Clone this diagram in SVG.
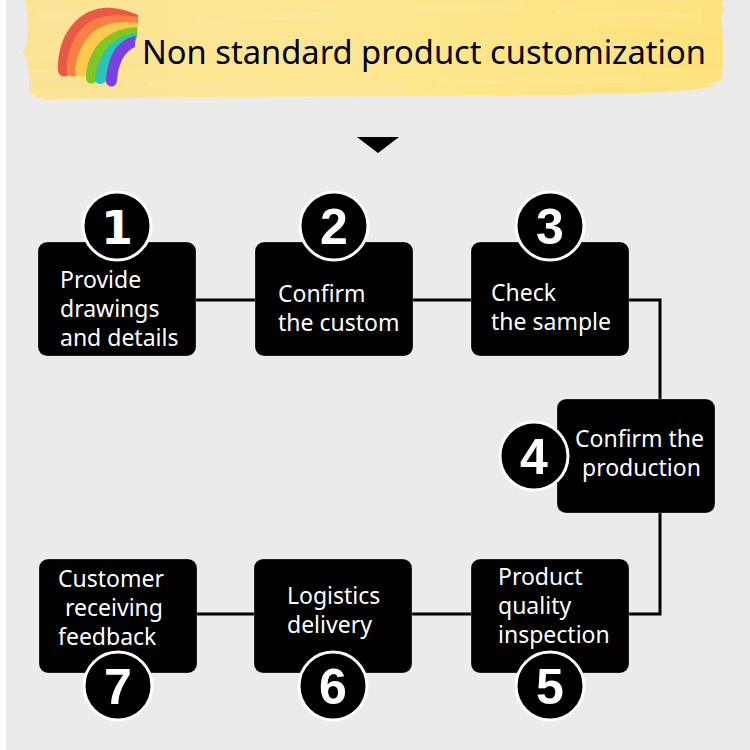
<svg xmlns="http://www.w3.org/2000/svg" width="750" height="750" viewBox="0 0 750 750">
<defs>
<linearGradient id="banner" x1="0" y1="0" x2="1" y2="0">
<stop offset="0" stop-color="#fbe398"/><stop offset="0.5" stop-color="#fde68f"/><stop offset="1" stop-color="#fde27e"/>
</linearGradient>
</defs>
<style>
.box{fill:#000;stroke:#fff;stroke-opacity:.25;stroke-width:1}
.lbl{font-family:"Noto Sans","Open Sans",sans-serif;font-size:23px;fill:#fff}
.disc{fill:#000;stroke:#fff;stroke-width:3}
.num{font-family:"Liberation Sans",Arial,sans-serif;font-size:50px;font-weight:bold;fill:#fff;text-anchor:middle}
.wire{fill:none;stroke:#000;stroke-width:3}
.streak{fill:none;stroke:#fff;stroke-opacity:.07;stroke-width:6;stroke-linecap:round}
.streak2{fill:none;stroke:#fbd96f;stroke-opacity:.18;stroke-width:6;stroke-linecap:round}
</style>
<rect width="750" height="750" fill="#ebebeb"/>
<rect width="6" height="750" fill="#fff"/>
<g id="banner-bar">
<path d="M25 0H724L722 4L724 10L721 13L722 24L723 40L723 66L721 78L722 80L708 84L716 86L690 90L640 93L560 95L400 96L200 97L60 99L47 100L36 97L29 92L29 78L27 60L23 52L27 40L28 18Z" fill="url(#banner)"/>
<path class="streak" d="M40 16H130M200 22L330 14M420 10L520 6M560 12L700 16M150 84H400M440 82L640 80"/>
<path class="streak2" d="M35 66H140M35 84H120M600 30L716 38M640 64L716 66"/>
</g>
<g id="rainbow">
<path fill="#e85a47" d="M138 15C125 9 112 7 103 8C75 11 57 38 58 70C58 76 64 78 69 75L72 50L100 22L138 22Z"/>
<path fill="#fb7f42" d="M138 17C115 13 95 15 83 27C72 38 66 55 67 74C69 77 75 77 77 75L85 50L110 32L138 28Z"/>
<path fill="#fdc94f" d="M138 23C118 20 100 24 90 35C80 46 75 60 75 74C78 77 84 78 88 74L95 50L115 36L138 34Z"/>
<path fill="#7fc724" d="M137 27C118 28 104 36 96 47C89 57 86 67 86 79C87 84 93 85 97 81L104 55L120 42L137 38Z"/>
<path fill="#2cc4b6" d="M137 33C122 35 110 42 104 52C98 62 95 72 95 80C96 85 103 85 106 81L112 58L125 45L136 40Z"/>
<path fill="#7c3fe0" d="M135.500 36C124 38 114 47 110 60C107 68 106 76 106 82C107 87 114 88 116 84C118 80 117 72 120 65C123 56 128 50 135 47Z"/>
</g>
<text id="title" x="142" y="64" font-family="Noto Sans,Open Sans,sans-serif" font-size="33" fill="#000" textLength="564" lengthAdjust="spacingAndGlyphs">Non standard product customization</text>
<path id="pointer" d="M357 137H399L378 153Z" fill="#000"/>
<g id="connectors">
<path class="wire" d="M196 300H255"/>
<path class="wire" d="M413 300H471"/>
<path class="wire" d="M629 300H660V400"/>
<path class="wire" d="M660 513V614H629"/>
<path class="wire" d="M471 614H412"/>
<path class="wire" d="M254 614H197"/>
</g>
<g id="node1">
<rect class="box" x="38" y="242" width="158" height="114" rx="9"/>
<circle class="disc" cx="117" cy="226" r="34"/>
<text class="num" x="117" y="244" style="font-family:'DejaVu Sans',sans-serif;font-size:46px">1</text>
<text class="lbl" x="60" y="288">Provide</text>
<text class="lbl" x="60" y="317">drawings</text>
<text class="lbl" x="60" y="346">and details</text>
</g>
<g id="node2">
<rect class="box" x="255" y="242" width="158" height="114" rx="9"/>
<circle class="disc" cx="334" cy="226" r="34"/>
<text class="num" x="334" y="244">2</text>
<text class="lbl" x="278" y="302">Confirm</text>
<text class="lbl" x="278" y="331">the custom</text>
</g>
<g id="node3">
<rect class="box" x="471" y="242" width="158" height="114" rx="9"/>
<circle class="disc" cx="550" cy="226" r="34"/>
<text class="num" x="550" y="244">3</text>
<text class="lbl" x="491" y="301">Check</text>
<text class="lbl" x="491" y="330">the sample</text>
</g>
<g id="node4">
<rect class="box" x="557" y="399" width="158" height="114" rx="9"/>
<circle class="disc" cx="534" cy="456" r="34"/>
<text class="num" x="534" y="474">4</text>
<text class="lbl" x="575" y="447">Confirm the</text>
<text class="lbl" x="582" y="476">production</text>
</g>
<g id="node5">
<rect class="box" x="471" y="559" width="158" height="114" rx="9"/>
<circle class="disc" cx="550" cy="686" r="34"/>
<text class="num" x="550" y="704">5</text>
<text class="lbl" x="498" y="585">Product</text>
<text class="lbl" x="498" y="614">quality</text>
<text class="lbl" x="498" y="643">inspection</text>
</g>
<g id="node6">
<rect class="box" x="254" y="559" width="158" height="114" rx="9"/>
<circle class="disc" cx="333" cy="686" r="34"/>
<text class="num" x="333" y="704">6</text>
<text class="lbl" x="287" y="604">Logistics</text>
<text class="lbl" x="287" y="633">delivery</text>
</g>
<g id="node7">
<rect class="box" x="39" y="559" width="158" height="114" rx="9"/>
<circle class="disc" cx="118" cy="686" r="34"/>
<text class="num" x="118" y="704">7</text>
<text class="lbl" x="58" y="587">Customer</text>
<text class="lbl" x="65" y="616">receiving</text>
<text class="lbl" x="58" y="645">feedback</text>
</g>
</svg>
